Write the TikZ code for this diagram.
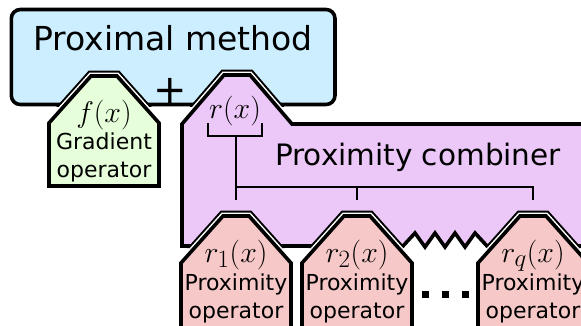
\documentclass[tikz,border=0pt]{standalone}
\usepackage[no-math]{fontspec}
\setmainfont{DejaVu Sans}
\definecolor{pmblue}{RGB}{204,238,255}
\definecolor{pmgreen}{RGB}{230,255,218}
\definecolor{pmpurple}{RGB}{236,200,248}
\definecolor{pmpink}{RGB}{246,200,200}
\newcommand{\pent}[3]{(#1-55,#3) -- (#1-55,#2+47) -- (#1-13,#2) -- (#1+13,#2) -- (#1+55,#2+47) -- (#1+55,#3) -- cycle}
\newcommand{\purp}[1]{(182,124) -- (224,75) -- (250,75) -- (292,124) -- (600,124) -- (600,246+#1) -- (487,246+#1) -- (475,233+#1) -- (465,247+#1) -- (455,233+#1) -- (445,247+#1) -- (435,233+#1) -- (425,247+#1) -- (415,233+#1) -- (403,246+#1) -- (182,246+#1) -- cycle}
\tikzset{
  boxline/.style={draw=black,line width=3.6pt},
  haloA/.style={draw=black,line width=10.6pt},
  haloB/.style={draw=white,line width=6.6pt},
  thinline/.style={draw=black,line width=1.6pt},
  bigtxt/.style={inner sep=0pt,anchor=base,font=\fontsize{33}{38}\selectfont},
  midtxt/.style={inner sep=0pt,anchor=base,font=\fontsize{29.5}{34}\selectfont},
  smalltxt/.style={inner sep=0pt,anchor=base,font=\fontsize{22}{26}\selectfont},
  mathtxt/.style={inner sep=0pt,anchor=base,scale=1.2,font=\fontsize{24.88}{30}\selectfont},
  dotsq/.style={fill=black,inner sep=0pt,minimum size=7pt},
}
\begin{document}
\begin{tikzpicture}[x=1pt,y=-1pt,line join=miter]
\useasboundingbox (0,0) rectangle (581,325);
\begin{scope}
\clip (0,0) rectangle (581,325);
% proximal method box
\path[boxline,fill=pmblue,rounded corners=9pt] (11.3,9.5) rectangle (335,104.5);
\begin{scope}
\clip (0,0) rectangle (337,106.5);
\draw[haloA] \pent{104}{76}{186};
\draw[haloB] \pent{104}{76}{186};
\draw[haloA] \purp{0};
\draw[haloB] \purp{0};
\end{scope}
% proximity combiner
\draw[boxline,fill=pmpurple] \purp{0};
\begin{scope}
\clip \purp{2};
\draw[haloA] \pent{236}{216}{340};
\draw[haloB] \pent{236}{216}{340};
\draw[haloA] \pent{357}{216}{340};
\draw[haloB] \pent{357}{216}{340};
\draw[haloA] \pent{533}{216}{340};
\draw[haloB] \pent{533}{216}{340};
\end{scope}
\draw[boxline,fill=pmgreen] \pent{104}{76}{186};
\draw[boxline,fill=pmpink] \pent{236}{216}{340};
\draw[boxline,fill=pmpink] \pent{357}{216}{340};
\draw[boxline,fill=pmpink] \pent{533}{216}{340};
\end{scope}
% texts
\node[bigtxt] (pm) at (173,50) {Proximal method};
\node[inner sep=0pt,font=\fontsize{40}{44}\selectfont] (plus) at (170,91) {+};
\node[mathtxt] (fx) at (104,122) {$f(x)$};
\node[smalltxt] (grad1) at (104,149) {Gradient};
\node[smalltxt] (grad2) at (104,177) {operator};
\node[mathtxt] (rx) at (235,118) {$r(x)$};
\node[midtxt] (pc) at (418,165) {Proximity combiner};
\node[mathtxt] (r1) at (236,262) {$r_1(x)$};
\node[smalltxt] (p1a) at (236,290) {Proximity};
\node[smalltxt] (p1b) at (236,318) {operator};
\node[mathtxt] (r2) at (357,262) {$r_2(x)$};
\node[smalltxt] (p2a) at (357,290) {Proximity};
\node[smalltxt] (p2b) at (357,318) {operator};
\node[mathtxt] (rq) at (533,262) {$r_q(x)$};
\node[smalltxt] (pqa) at (533,290) {Proximity};
\node[smalltxt] (pqb) at (533,318) {operator};
\node[dotsq] (dot1) at (425,294) {};
\node[dotsq] (dot2) at (445,294) {};
\node[dotsq] (dot3) at (465,294) {};
% connectors
\coordinate (bl) at (208,123);
\coordinate (blb) at (208,136);
\coordinate (br) at (262,123);
\coordinate (brb) at (262,136);
\coordinate (bm) at (236,136);
\coordinate (j1) at (236,187);
\coordinate (j2) at (357,187);
\coordinate (jq) at (533,187);
\coordinate (t1) at (236,200);
\coordinate (t2) at (357,200);
\coordinate (tq) at (533,200);
\draw[thinline] (bl) -- (blb) -- (brb) -- (br);
\draw[thinline] (bm) -- (t1);
\draw[thinline] (j1) -- (jq) -- (tq);
\draw[thinline] (j2) -- (t2);
\end{tikzpicture}
\end{document}
